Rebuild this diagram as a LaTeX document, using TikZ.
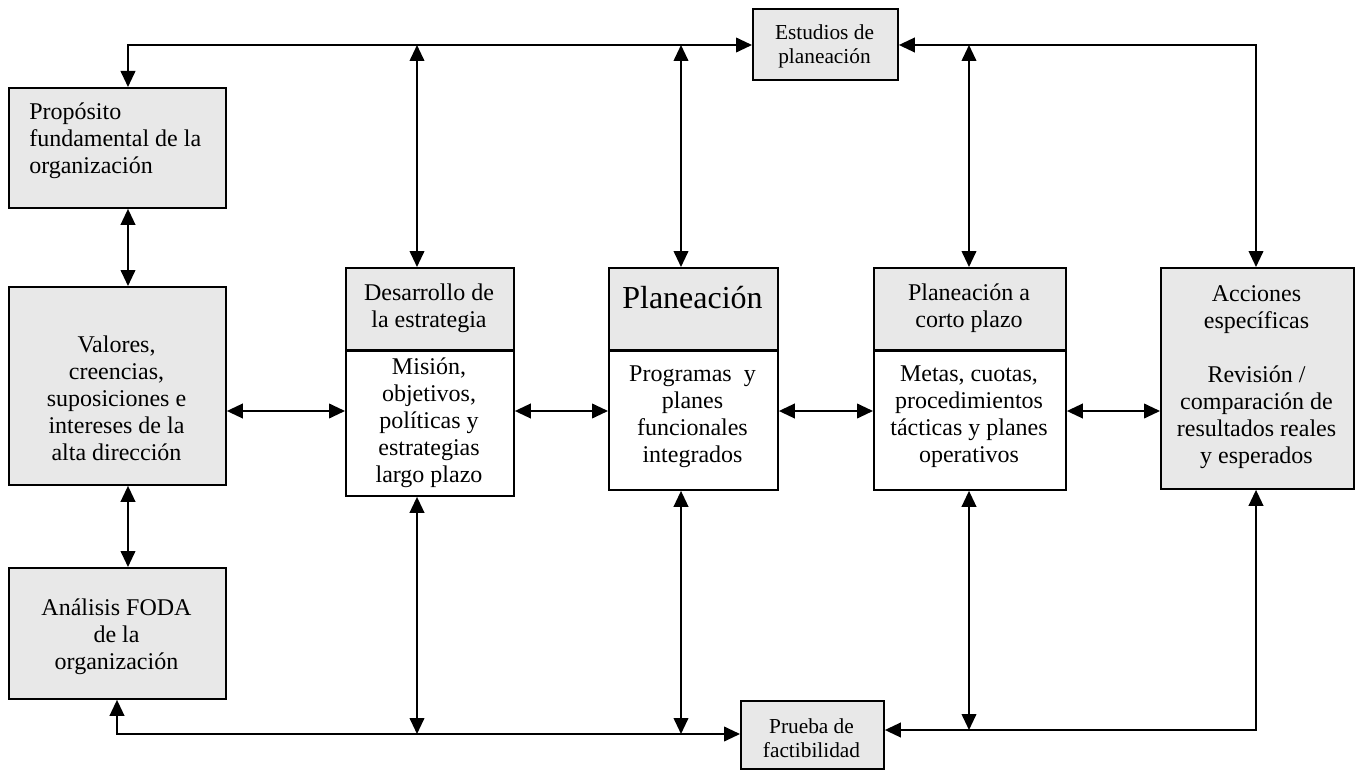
\documentclass[tikz,border=0pt]{standalone}
\usepackage{fontspec}
\setmainfont{Liberation Serif}
\usetikzlibrary{arrows.meta,calc}
\definecolor{boxgray}{RGB}{232,232,232}
\tikzset{
  box/.style={draw=black, line width=1.4pt, fill=boxgray, inner sep=0pt, anchor=north west},
  wbox/.style={box, fill=white},
  divider/.style={line width=2.4pt},
  txt/.style={align=center, inner sep=0pt, font=\fontsize{18}{20.25}\selectfont},
  smalltxt/.style={align=center, inner sep=0pt, font=\fontsize{16}{18}\selectfont},
  bigtxt/.style={inner sep=0pt, font=\fontsize{24}{28}\selectfont},
  conn/.style={line width=1.4pt, {Triangle[length=12pt,width=11pt]}-{Triangle[length=12pt,width=11pt]}},
}
\begin{document}
\begin{tikzpicture}[x=0.75pt,y=-0.75pt]
\useasboundingbox (0,0) rectangle (1356,770);
% boxes
\node[box, minimum width=162.75pt, minimum height=90pt] (prop) at (8,87) {};
\node[box, minimum width=162.75pt, minimum height=148.5pt] (val) at (8,286) {};
\node[box, minimum width=162.75pt, minimum height=98.25pt] (foda) at (8,567) {};
\node[box, minimum width=108.75pt, minimum height=53.25pt] (est) at (752,8) {};
\node[box, minimum width=107.25pt, minimum height=51pt] (prue) at (740,700) {};
\node[box, minimum width=126pt, minimum height=61.5pt] (desT) at (345,267) {};
\node[wbox, minimum width=126pt, minimum height=109.5pt] (desB) at (345,349) {};
\node[box, minimum width=126.75pt, minimum height=61.5pt] (plaT) at (608,267) {};
\node[wbox, minimum width=126.75pt, minimum height=105pt] (plaB) at (608,349) {};
\node[box, minimum width=144pt, minimum height=61.5pt] (corT) at (873,267) {};
\node[wbox, minimum width=144pt, minimum height=105pt] (corB) at (873,349) {};
\node[box, minimum width=144.75pt, minimum height=165.75pt] (acc) at (1160,267) {};
\draw[divider] (desT.south west) -- (desT.south east);
\draw[divider] (plaT.south west) -- (plaT.south east);
\draw[divider] (corT.south west) -- (corT.south east);
% texts
\node[txt, align=left, anchor=west] (propT) at (29,141) {Propósito\\fundamental de la\\organización};
\node[txt] (valT) at (116.5,398) {Valores,\\creencias,\\suposiciones e\\intereses de la\\alta dirección};
\node[txt] (fodaT) at (116.5,637) {Análisis FODA\\de la\\organización};
\node[smalltxt] (estT) at (824.5,46) {Estudios de\\planeación};
\node[smalltxt] (prueT) at (811.5,738.5) {Prueba de\\factibilidad};
\node[txt] (desTT) at (429,308) {Desarrollo de\\la estrategia};
\node[txt] (desBT) at (429,423) {Misión,\\objetivos,\\políticas y\\estrategias\\largo plazo};
\node[bigtxt, anchor=base] (plaTT) at (692.5,308) {Planeación};
\node[txt] (plaBT) at (692.5,417) {Programas~ y\\planes\\funcionales\\integrados};
\node[txt] (corTT) at (969,308) {Planeación a\\corto plazo};
\node[txt] (corBT) at (969,417) {Metas, cuotas,\\procedimientos\\tácticas y planes\\operativos};
\node[txt] (accT) at (1256.5,377.5) {Acciones\\específicas\\~\\Revisión /\\comparación de\\resultados reales\\y esperados};
% connector coordinates
\coordinate (tl) at (128,45);
\coordinate (tr) at (1256,45);
\coordinate (t1) at (417,45);
\coordinate (t2) at (681,45);
\coordinate (t3) at (969,45);
\coordinate (bl) at (117,734);
\coordinate (b1) at (417,734);
\coordinate (b2) at (681,734);
\coordinate (br) at (1256,730);
\coordinate (b3) at (969,730);
\coordinate (h) at (0,411);
% top
\draw[conn] (prop.north -| tl) -- (tl) -- (tl -| est.west);
\draw[conn] (tr -| est.east) -- (tr) -- (tr |- acc.north);
\draw[conn] (t1) -- (t1 |- desT.north);
\draw[conn] (t2) -- (t2 |- plaT.north);
\draw[conn] (t3) -- (t3 |- corT.north);
% left column
\draw[conn] (prop.south -| tl) -- (val.north -| tl);
\draw[conn] (val.south -| tl) -- (foda.north -| tl);
% row
\draw[conn] (val.east |- h) -- (desB.west |- h);
\draw[conn] (desB.east |- h) -- (plaB.west |- h);
\draw[conn] (plaB.east |- h) -- (corB.west |- h);
\draw[conn] (corB.east |- h) -- (acc.west |- h);
% bottom
\draw[conn] (foda.south -| bl) -- (bl) -- (bl -| prue.west);
\draw[conn] (desB.south -| b1) -- (b1);
\draw[conn] (plaB.south -| b2) -- (b2);
\draw[conn] (br -| prue.east) -- (br) -- (br |- acc.south);
\draw[conn] (corB.south -| b3) -- (b3);
\end{tikzpicture}
\end{document}
